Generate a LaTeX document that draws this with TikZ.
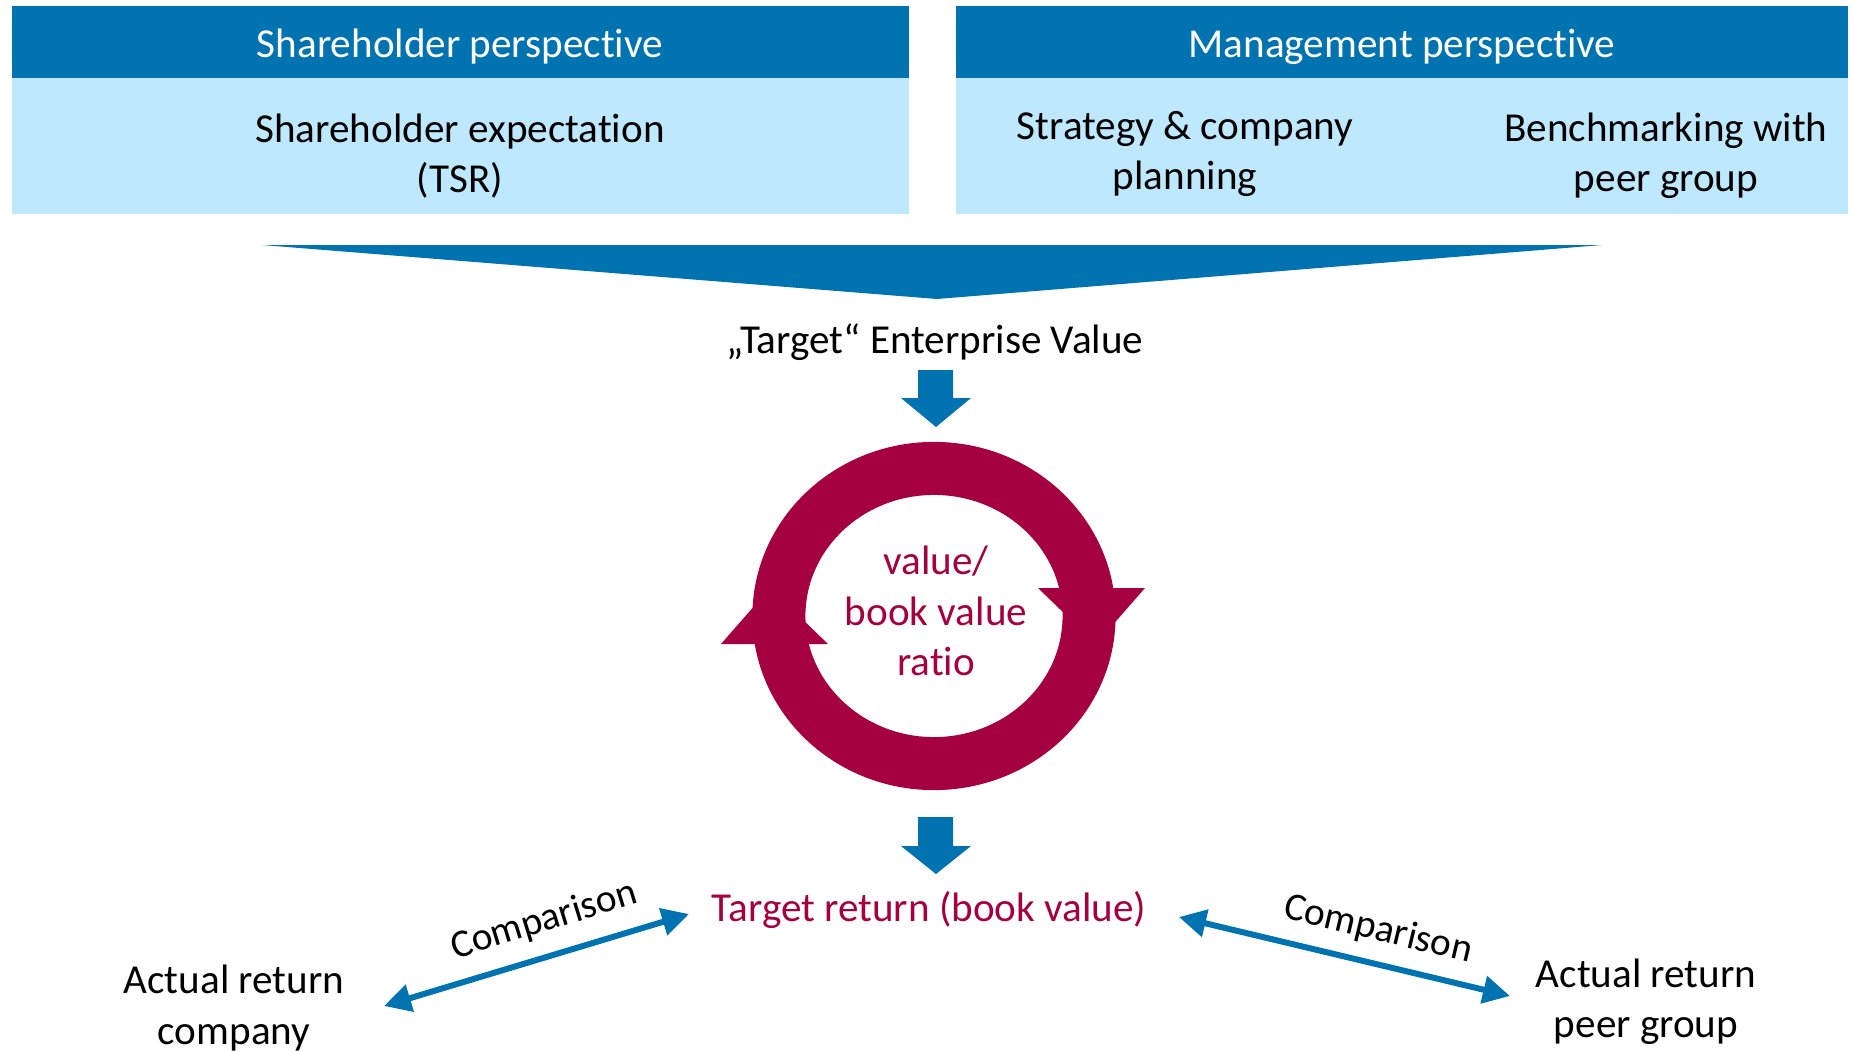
\documentclass[tikz,border=0pt]{standalone}
\usepackage{fontspec}
\setmainfont{Carlito}[RawFeature={-liga;-clig;-calt}]
\usetikzlibrary{arrows.meta}
\definecolor{hdrblue}{RGB}{0,115,176}
\definecolor{paleblue}{RGB}{189,232,253}
\definecolor{crimson}{RGB}{165,0,64}
% separate two letters so that the font does not join them
\newcommand\brk{\kern0pt }
\begin{document}
\begin{tikzpicture}[x=0.01cm,y=0.01cm,
  txt/.style={font=\fontsize{11.7}{14.3}\selectfont, align=center, inner sep=0pt},
  hdrbox/.style={fill=hdrblue, minimum height=0.72cm, inner sep=0pt},
  hdrtxt/.style={txt, text=white},
  bodybox/.style={fill=paleblue, minimum height=1.36cm, inner sep=0pt},
  downarrow/.style={fill=hdrblue},
  cmp/.style={hdrblue, line width=0.06cm,
    {Triangle[length=0.27cm,width=0.27cm]}-{Triangle[length=0.27cm,width=0.27cm]}},
  cmplabel/.style={font=\fontsize{11.2}{13}\selectfont, inner sep=0pt}]
\useasboundingbox (0,0) rectangle (1853,-1051);

% perspective boxes
\node[hdrbox, minimum width=8.97cm] (shh) at (460.5,-42) {};
\node[bodybox, minimum width=8.97cm] (shb) at (460.5,-146) {};
\node[hdrbox, minimum width=8.92cm] (mgh) at (1402,-42) {};
\node[bodybox, minimum width=8.92cm] (mgb) at (1402,-146) {};
\node[hdrtxt] (shht) at (460,-47) {Shareholder perspect\brk ive};
\node[hdrtxt] (mght) at (1402,-47) {Management perspect\brk ive};
\node[txt] (tsr) at (460,-156) {Shareholder expectat\brk ion\\(TSR)};
\node[txt] (strat) at (1185,-154) {Strategy \& company\\planning};
\node[txt] (bench) at (1666,-156) {Benchmarking with\\peer group};

% funnel
\fill[hdrblue] (262,-245) -- (1602,-245) -- (937,-299) -- cycle;

\node[txt] (ev) at (935,-342) {„Target“ Enterprise Value};

% down arrows
\fill[downarrow] (918,-370) -- (953,-370) -- (953,-398) -- (971,-398) -- (936,-427)
  -- (901,-398) -- (918,-398) -- cycle;
\fill[downarrow] (918,-817) -- (953,-817) -- (953,-846) -- (971,-846) -- (936,-874)
  -- (901,-846) -- (918,-846) -- cycle;

% circular arrows
\draw[crimson, line width=0.53cm] (934,-616) ellipse [x radius=1.55cm, y radius=1.475cm];
\fill[crimson] (1038,-588) -- (1145,-588) -- (1096,-644) -- cycle;
\fill[crimson] (828,-644) -- (721,-644) -- (770,-588) -- cycle;
\node[txt, text=crimson] (ratio) at (936,-611) {value/\\book value\\rat\brk io};

\node[txt, text=crimson] (tgt) at (929,-910) {Target return (book value)};

\node[txt] (actc) at (234,-1008) {Actual return\\company};
\node[txt] (actp) at (1646,-1002) {Actual return\\peer group};

% comparison arrows
\coordinate (cl1) at (689,-914);
\coordinate (cl2) at (384,-1006);
\coordinate (cr1) at (1179,-917);
\coordinate (cr2) at (1510,-996);
\draw[cmp] (cl1) -- (cl2);
\draw[cmp] (cr1) -- (cr2);
\node[cmplabel, rotate=17] (cmpl) at (544,-921) {Comparison};
\node[cmplabel, rotate=-13.4] (cmpr) at (1378,-930) {Comparison};
\end{tikzpicture}
\end{document}
